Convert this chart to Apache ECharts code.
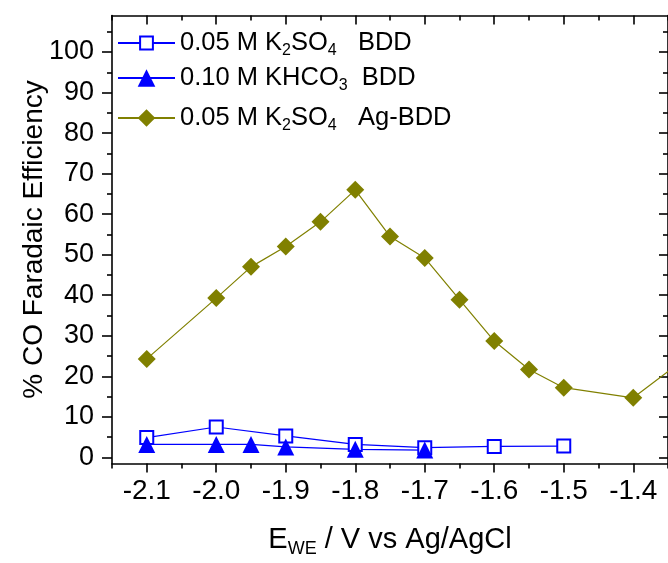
<!DOCTYPE html>
<html>
<head>
<meta charset="utf-8">
<script src="https://cdn.jsdelivr.net/npm/echarts@6/dist/echarts.min.js"></script>
<style>
  html, body { margin: 0; padding: 0; background: #ffffff; }
  #chart { width: 668px; height: 563px; }
</style>
</head>
<body>
<div id="chart"></div>
<script>
// Working-electrode potential (V vs Ag/AgCl) and CO Faradaic efficiency (%)
const potK2SO4BDD = [-2.1, -2.0, -1.9, -1.8, -1.7, -1.6, -1.5];
const feK2SO4BDD = [4.9, 7.5, 5.3, 3.2, 2.4, 2.7, 2.8];

const potKHCO3BDD = [-2.1, -2.0, -1.95, -1.9, -1.8, -1.7];
const feKHCO3BDD = [3.2, 3.2, 3.2, 2.6, 2.0, 1.8];

const potK2SO4AgBDD = [-2.1, -2.0, -1.95, -1.9, -1.85, -1.8, -1.75, -1.7, -1.65, -1.6, -1.55, -1.5, -1.4, -1.3];
const feK2SO4AgBDD = [24.3, 39.3, 47.0, 52.0, 58.1, 66.0, 54.5, 49.2, 38.9, 28.7, 21.7, 17.2, 14.7, 27.7];

const seriesNames = ['0.05 M K2SO4 BDD', '0.10 M KHCO3 BDD', '0.05 M K2SO4 Ag-BDD'];
// legend text with subscripts (rich text markup)
const legendLabels = [
  '{a|0.05 M K}{s|2}{a|SO}{s|4}{a|   BDD}',
  '{a|0.10 M KHCO}{s|3}{a|  BDD}',
  '{a|0.05 M K}{s|2}{a|SO}{s|4}{a|   Ag-BDD}'
];

// axis ranges and tick positions
const xRange = [-2.15, -1.35];
const yRange = [-1.5, 109];
const xMajorTicks = [-2.1, -2.0, -1.9, -1.8, -1.7, -1.6, -1.5, -1.4];
const xMinorTicks = [-2.15, -2.05, -1.95, -1.85, -1.75, -1.65, -1.55, -1.45, -1.35];
const yMajorTicks = [0, 10, 20, 30, 40, 50, 60, 70, 80, 90, 100];
const yMinorTicks = [5, 15, 25, 35, 45, 55, 65, 75, 85, 95, 105];

const BLUE = '#0000ff';
const OLIVE = '#808000';
const FONT = 'Liberation Sans, Arial, sans-serif';

const pairs = (xs, ys) => xs.map((x, i) => [x, ys[i]]);

const richText = {
  a: { fontFamily: FONT, fontSize: 25.5, color: '#000', lineHeight: 32 },
  s: { fontFamily: FONT, fontSize: 16, color: '#000', lineHeight: 16, padding: [16, 0, 0, 0] }
};

function tickAxis(dim, position, ticks, length, inside, isMain) {
  return {
    type: 'value',
    gridIndex: 0,
    position: position,
    min: dim === 'x' ? xRange[0] : yRange[0],
    max: dim === 'x' ? xRange[1] : yRange[1],
    splitLine: { show: false },
    axisLine: { show: isMain, onZero: false, lineStyle: { color: '#000', width: 1.6 } },
    axisTick: {
      show: true, inside: inside, length: length, customValues: ticks,
      lineStyle: { color: '#000', width: 1.6 }
    },
    axisLabel: { show: false }
  };
}

const xAxes = [
  tickAxis('x', 'bottom', xMajorTicks, 9, false, true),
  tickAxis('x', 'bottom', xMinorTicks, 5, false, false),
  tickAxis('x', 'top', xMajorTicks, 9, true, true),
  tickAxis('x', 'top', xMinorTicks, 5, true, false)
];
xAxes[0].axisLabel = {
  show: true, customValues: xMajorTicks, margin: 14,
  fontFamily: FONT, fontSize: 28, color: '#000',
  formatter: v => v.toFixed(1)
};
xAxes[0].name = '{a|E}{s|WE}{a| / V vs Ag/AgCl}';
xAxes[0].nameLocation = 'middle';
xAxes[0].nameGap = 59;
xAxes[0].nameMoveOverlap = false;
xAxes[0].nameTextStyle = {
  rich: {
    a: { fontFamily: FONT, fontSize: 29, color: '#000', lineHeight: 34 },
    s: { fontFamily: FONT, fontSize: 18, color: '#000', lineHeight: 18, padding: [19, 0, 0, 0] }
  }
};

const yAxes = [
  tickAxis('y', 'left', yMajorTicks, 10, false, true),
  tickAxis('y', 'left', yMinorTicks, 5, false, false),
  tickAxis('y', 'right', yMajorTicks, 9, true, true),
  tickAxis('y', 'right', yMinorTicks, 5, true, false)
];
yAxes[0].axisLabel = {
  show: true, customValues: yMajorTicks, margin: 18,
  fontFamily: FONT, fontSize: 27, color: '#000'
};
yAxes[0].name = '% CO Faradaic Efficiency';
yAxes[0].nameLocation = 'middle';
yAxes[0].nameGap = 64;
yAxes[0].nameMoveOverlap = false;
yAxes[0].nameTextStyle = { fontFamily: FONT, fontSize: 28, color: '#000' };

function legendFor(i, top, itemHeight) {
  return {
    data: [seriesNames[i]],
    orient: 'vertical',
    left: 117,
    top: top,
    padding: 0,
    itemWidth: 57,
    itemHeight: itemHeight,
    formatter: () => legendLabels[i],
    textStyle: { rich: richText },
    selectedMode: false
  };
}

const chart = echarts.init(document.getElementById('chart'), null, { renderer: 'canvas' });
chart.setOption({
  animation: false,
  backgroundColor: '#ffffff',
  grid: { left: 112, top: 15.5, width: 561, height: 454, containLabel: false },
  xAxis: xAxes,
  yAxis: yAxes,
  legend: [
    legendFor(0, 35 - 8, 16),
    legendFor(1, 73 - 11, 22),
    legendFor(2, 113 - 11, 22)
  ],
  series: [
    {
      name: seriesNames[0], type: 'line', xAxisIndex: 0, yAxisIndex: 0,
      data: pairs(potK2SO4BDD, feK2SO4BDD),
      symbol: 'emptyRect', symbolSize: 13,
      color: BLUE,
      lineStyle: { color: BLUE, width: 1.2 },
      itemStyle: { color: BLUE, borderWidth: 1.5 }
    },
    {
      name: seriesNames[1], type: 'line', xAxisIndex: 0, yAxisIndex: 0,
      data: pairs(potKHCO3BDD, feKHCO3BDD),
      symbol: 'triangle', symbolSize: 17,
      color: BLUE,
      lineStyle: { color: BLUE, width: 1.2 },
      itemStyle: { color: BLUE }
    },
    {
      name: seriesNames[2], type: 'line', xAxisIndex: 0, yAxisIndex: 0,
      data: pairs(potK2SO4AgBDD, feK2SO4AgBDD),
      symbol: 'diamond', symbolSize: 18,
      color: OLIVE,
      lineStyle: { color: OLIVE, width: 1.2 },
      itemStyle: { color: OLIVE }
    }
  ]
});
</script>
</body>
</html>
